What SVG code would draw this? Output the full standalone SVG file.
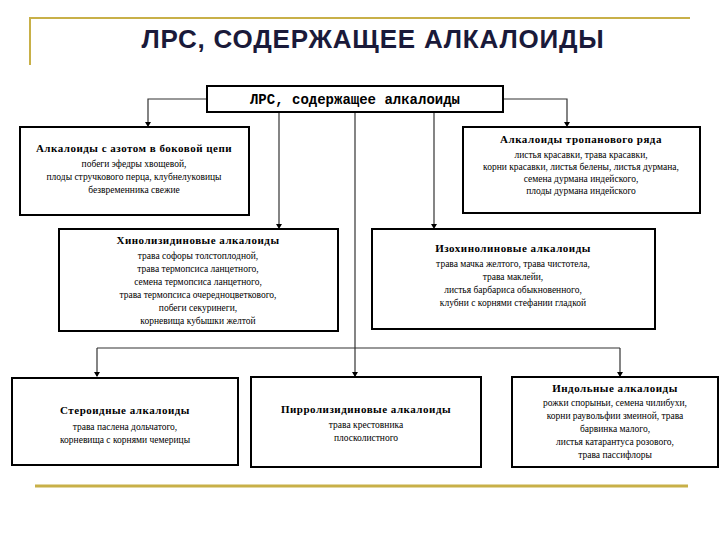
<svg xmlns="http://www.w3.org/2000/svg" width="720" height="540" viewBox="0 0 720 540">
<defs>
<style>
.box{fill:#fff;stroke:#000;stroke-width:2}
.ln{stroke:#333;stroke-width:1.2;fill:none}
.h{font-family:"Liberation Serif",serif;font-size:11px;font-weight:bold;text-anchor:middle;letter-spacing:0.5px}
.t{font-family:"Liberation Serif",serif;font-size:9.5px;text-anchor:middle}
</style>
</defs>
<rect width="720" height="540" fill="#fff"/>
<path d="M30,65 V18 H690" stroke="#c8b048" stroke-width="2" fill="none"/>
<line x1="35" y1="486" x2="688" y2="486" stroke="#c8b048" stroke-width="3"/>
<text x="373" y="48" font-family="Liberation Sans,sans-serif" font-size="26" font-weight="bold" fill="#1a1a3a" text-anchor="middle" letter-spacing="0.8">ЛРС, СОДЕРЖАЩЕЕ АЛКАЛОИДЫ</text>
<g id="connectors">
<path class="ln" d="M207,99 H148 V125"/>
<path class="ln" d="M503,99 H567 V125"/>
<path class="ln" d="M279,112 V227"/>
<path class="ln" d="M434,112 V227"/>
<path class="ln" d="M355,112 V376"/>
<path class="ln" d="M97,348 H620"/>
<path class="ln" d="M97,348 V376"/>
<path class="ln" d="M620,348 V376"/>
<g fill="#000"><path d="M145,122 h6 l-3,5z"/><path d="M564,122 h6 l-3,5z"/><path d="M276,224 h6 l-3,5z"/><path d="M431,224 h6 l-3,5z"/><path d="M352,372 h6 l-3,5z"/><path d="M94,372 h6 l-3,5z"/><path d="M617,372 h6 l-3,5z"/></g>
</g>
<g id="root"><rect class="box" x="207" y="86" width="296" height="26" stroke-width="1.5"/>
<text x="355" y="104" font-family="Liberation Mono,monospace" font-size="14" font-weight="bold" text-anchor="middle">ЛРС, содержащее алкалоиды</text></g>
<g id="n1"><rect class="box" x="20" y="127" width="229" height="88"/>
<text class="h" x="134" y="152">Алкалоиды с азотом в боковой цепи</text>
<text class="t" x="134" y="167">побеги эфедры хвощевой,</text>
<text class="t" x="134" y="180">плоды стручкового перца, клубнелуковицы</text>
<text class="t" x="134" y="193">безвременника свежие</text></g>
<g id="n2"><rect class="box" x="463" y="127" width="237" height="86"/>
<text class="h" x="581" y="143">Алкалоиды тропанового ряда</text>
<text class="t" x="581" y="158">листья красавки, трава красавки,</text>
<text class="t" x="581" y="170">корни красавки, листья белены, листья дурмана,</text>
<text class="t" x="581" y="182">семена дурмана индейского,</text>
<text class="t" x="581" y="194">плоды дурмана индейского</text></g>
<g id="n3"><rect class="box" x="59" y="229" width="279" height="102"/>
<text class="h" x="198" y="244">Хинолизидиновые алкалоиды</text>
<text class="t" x="198" y="259">трава софоры толстоплодной,</text>
<text class="t" x="198" y="272">трава термопсиса ланцетного,</text>
<text class="t" x="198" y="285">семена термопсиса ланцетного,</text>
<text class="t" x="198" y="298">трава термопсиса очередноцветкового,</text>
<text class="t" x="198" y="311">побеги секуринеги,</text>
<text class="t" x="198" y="324">корневища кубышки желтой</text></g>
<g id="n4"><rect class="box" x="372" y="229" width="283" height="100"/>
<text class="h" x="513" y="252">Изохинолиновые алкалоиды</text>
<text class="t" x="513" y="267">трава мачка желтого, трава чистотела,</text>
<text class="t" x="513" y="280">трава маклейи,</text>
<text class="t" x="513" y="293">листья барбариса обыкновенного,</text>
<text class="t" x="513" y="306">клубни с корнями стефании гладкой</text></g>
<g id="n5"><rect class="box" x="12" y="378" width="226" height="87"/>
<text class="h" x="125" y="414">Стероидные алкалоиды</text>
<text class="t" x="125" y="430">трава паслена дольчатого,</text>
<text class="t" x="125" y="443">корневища с корнями чемерицы</text></g>
<g id="n6"><rect class="box" x="251" y="377" width="230" height="90"/>
<text class="h" x="366" y="413">Пирролизидиновые алкалоиды</text>
<text class="t" x="366" y="428">трава крестовника</text>
<text class="t" x="366" y="441">плосколистного</text></g>
<g id="n7"><rect class="box" x="512" y="377" width="206" height="90"/>
<text class="h" x="615" y="392">Индольные алкалоиды</text>
<text class="t" x="615" y="406">рожки спорыньи, семена чилибухи,</text>
<text class="t" x="615" y="419">корни раувольфии змеиной, трава</text>
<text class="t" x="615" y="432">барвинка малого,</text>
<text class="t" x="615" y="445">листья катарантуса розового,</text>
<text class="t" x="615" y="458">трава пассифлоры</text></g>
</svg>
